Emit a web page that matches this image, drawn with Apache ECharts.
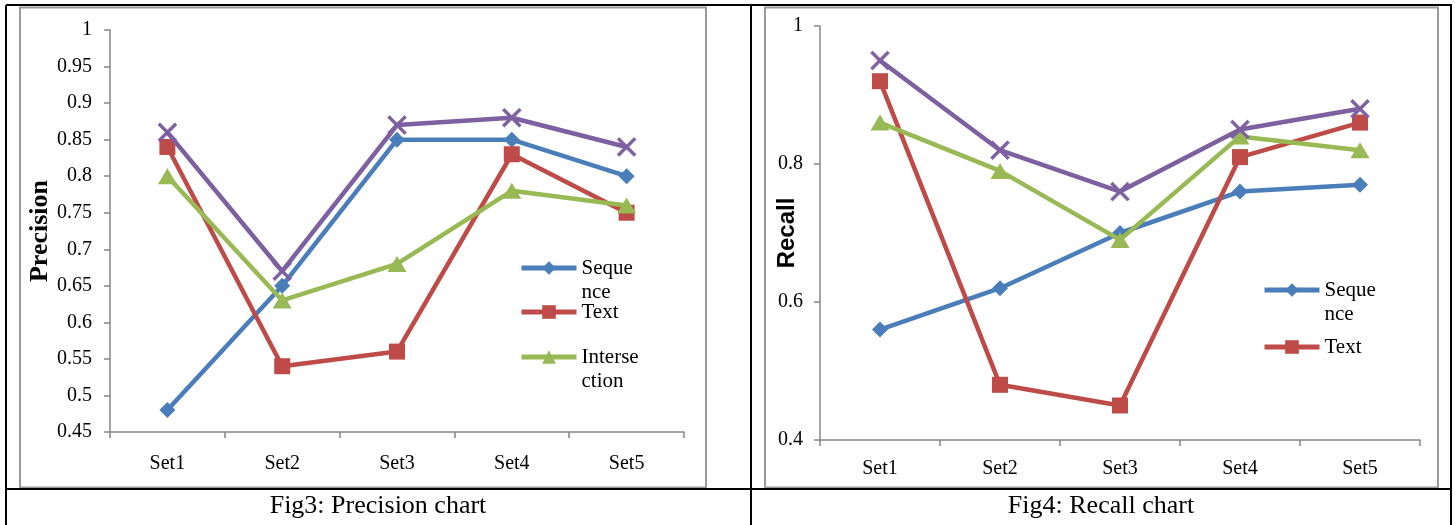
<!DOCTYPE html>
<html>
<head>
<meta charset="utf-8">
<script src="https://cdn.jsdelivr.net/npm/echarts@6/dist/echarts.min.js"></script>
<style>
html,body{margin:0;padding:0;background:#fff;}
#main{width:1455px;height:525px;}
</style>
</head>
<body>
<div id="main"></div>
<script>
// ---- data ----
const categories = ['Set1', 'Set2', 'Set3', 'Set4', 'Set5'];
const seriesNames = ['Sequence', 'Text', 'Intersection', 'Union'];

const precisionSequence     = [0.48, 0.65, 0.85, 0.85, 0.80];
const precisionText         = [0.84, 0.54, 0.56, 0.83, 0.75];
const precisionIntersection = [0.80, 0.63, 0.68, 0.78, 0.76];
const precisionUnion        = [0.86, 0.67, 0.87, 0.88, 0.84];

const recallSequence     = [0.56, 0.62, 0.70, 0.76, 0.77];
const recallText         = [0.92, 0.48, 0.45, 0.81, 0.86];
const recallIntersection = [0.86, 0.79, 0.69, 0.84, 0.82];
const recallUnion        = [0.95, 0.82, 0.76, 0.85, 0.88];

const precisionTitle = 'Precision';
const recallTitle = 'Recall';
const caption3 = 'Fig3: Precision chart';
const caption4 = 'Fig4: Recall chart';

// ---- styles ----
const colors = ['#4A7EBB', '#BE4B48', '#98B954', '#7D60A0'];
const crossPath = 'path://M0,1.1 L1.1,0 L10,8.9 L8.9,10 Z M8.9,0 L10,1.1 L1.1,10 L0,8.9 Z';
const symbols = ['path://M5,0 L10,5 L5,10 L0,5 Z', 'rect', 'triangle', crossPath];
const symbolSizes = [[16,16], [16,16], [19,16], [19,19]];
const serif = '"Liberation Serif", "DejaVu Serif", serif';
const axisGray = '#868686';

function mkSeries(name, data, idx, axisIdx) {
  return {
    type: 'line', name: name, data: data,
    xAxisIndex: axisIdx, yAxisIndex: axisIdx,
    symbol: symbols[idx], symbolSize: symbolSizes[idx],
    lineStyle: { color: colors[idx], width: 4.5 },
    itemStyle: { color: colors[idx], borderColor: colors[idx], borderWidth: idx === 3 ? 0.6 : 0 },
    emphasis: { disabled: true },
    animation: false, z: 2 + idx
  };
}

function xAxis(gridIndex, margin) {
  return {
    type: 'category', gridIndex: gridIndex, data: categories, boundaryGap: true,
    axisLine: { lineStyle: { color: axisGray, width: 1.5 } },
    axisTick: { show: true, length: 6, inside: false, lineStyle: { color: axisGray, width: 1.5 } },
    axisLabel: { color: '#000', fontFamily: serif, fontSize: 20, margin: margin }
  };
}
function yAxis(gridIndex, min, max, interval, name, nameFont, nameSize, nameGap, labelMargin) {
  return {
    type: 'value', gridIndex: gridIndex, min: min, max: max, interval: interval,
    name: name, nameLocation: 'middle', nameGap: nameGap, nameRotate: 90,
    nameMoveOverlap: false,
    nameTextStyle: { fontFamily: nameFont, fontSize: nameSize, fontWeight: 'bold', color: '#000' },
    axisLine: { show: true, lineStyle: { color: axisGray, width: 1.5 } },
    axisTick: { show: true, length: 6, inside: false, lineStyle: { color: axisGray, width: 1.5 } },
    splitLine: { show: false },
    axisLabel: { color: '#000', fontFamily: serif, fontSize: 20, margin: labelMargin }
  };
}

const LH = 24;
function legendItem(name, text, left, centerY, twoLine) {
  return {
    data: [name], left: left, top: twoLine ? centerY - 1.5 * LH : centerY - LH / 2,
    orient: 'vertical', padding: 0, itemWidth: 55, itemHeight: 17, itemGap: 0,
    selectedMode: false,
    lineStyle: { width: 5 },
    formatter: function () { return twoLine ? '\n' + text : text; },
    textStyle: { fontFamily: serif, fontSize: 21, lineHeight: LH, color: '#000' }
  };
}

const chart = echarts.init(document.getElementById('main'), null, { renderer: 'canvas' });
const option = {
  backgroundColor: '#fff',
  animation: false,
  grid: [
    { left: 110, top: 30, width: 574, height: 402, containLabel: false },
    { left: 820, top: 26, width: 600, height: 414, containLabel: false }
  ],
  xAxis: [ xAxis(0, 22), xAxis(1, 19) ],
  yAxis: [
    yAxis(0, 0.45, 1, 0.05, precisionTitle, serif, 26, 57, 18),
    yAxis(1, 0.4, 1, 0.2, recallTitle, '"Liberation Sans", Arial, sans-serif', 24, 21, 17)
  ],
  legend: [
    legendItem('Sequence', 'Seque\nnce', 519, 268, true),
    legendItem('Text', 'Text', 519, 312, false),
    legendItem('Intersection', 'Interse\nction', 519, 357, true),
    legendItem('Sequence', 'Seque\nnce', 1262, 290, true),
    legendItem('Text', 'Text', 1262, 347, false)
  ],
  series: [
    mkSeries(seriesNames[0], precisionSequence, 0, 0),
    mkSeries(seriesNames[1], precisionText, 1, 0),
    mkSeries(seriesNames[2], precisionIntersection, 2, 0),
    mkSeries(seriesNames[3], precisionUnion, 3, 0),
    mkSeries(seriesNames[0], recallSequence, 0, 1),
    mkSeries(seriesNames[1], recallText, 1, 1),
    mkSeries(seriesNames[2], recallIntersection, 2, 1),
    mkSeries(seriesNames[3], recallUnion, 3, 1)
  ],
  graphic: [
    // gray chart frames
    { type: 'rect', shape: { x: 20, y: 7.5, width: 686, height: 480 }, style: { fill: 'none', stroke: '#9a9a9a', lineWidth: 2 }, z: 0 },
    { type: 'rect', shape: { x: 765, y: 7.5, width: 673, height: 480 }, style: { fill: 'none', stroke: '#9a9a9a', lineWidth: 2 }, z: 0 },
    // black table lines
    { type: 'line', shape: { x1: 6, y1: 5, x2: 1452, y2: 5 }, style: { stroke: '#000', lineWidth: 2 }, z: 1 },
    { type: 'line', shape: { x1: 6, y1: 5, x2: 6, y2: 530 }, style: { stroke: '#000', lineWidth: 2 }, z: 1 },
    { type: 'line', shape: { x1: 1451, y1: 5, x2: 1451, y2: 530 }, style: { stroke: '#000', lineWidth: 2 }, z: 1 },
    { type: 'line', shape: { x1: 751, y1: 5, x2: 751, y2: 530 }, style: { stroke: '#000', lineWidth: 2 }, z: 1 },
    { type: 'line', shape: { x1: 6, y1: 489, x2: 1452, y2: 489 }, style: { stroke: '#000', lineWidth: 2 }, z: 1 },
    // captions
    { type: 'text', x: 378, y: 506, style: { text: caption3, fontFamily: serif, fontSize: 26, fill: '#000', align: 'center', verticalAlign: 'middle' } },
    { type: 'text', x: 1101, y: 506, style: { text: caption4, fontFamily: serif, fontSize: 26, fill: '#000', align: 'center', verticalAlign: 'middle' } }
  ]
};
chart.setOption(option);
</script>
</body>
</html>
